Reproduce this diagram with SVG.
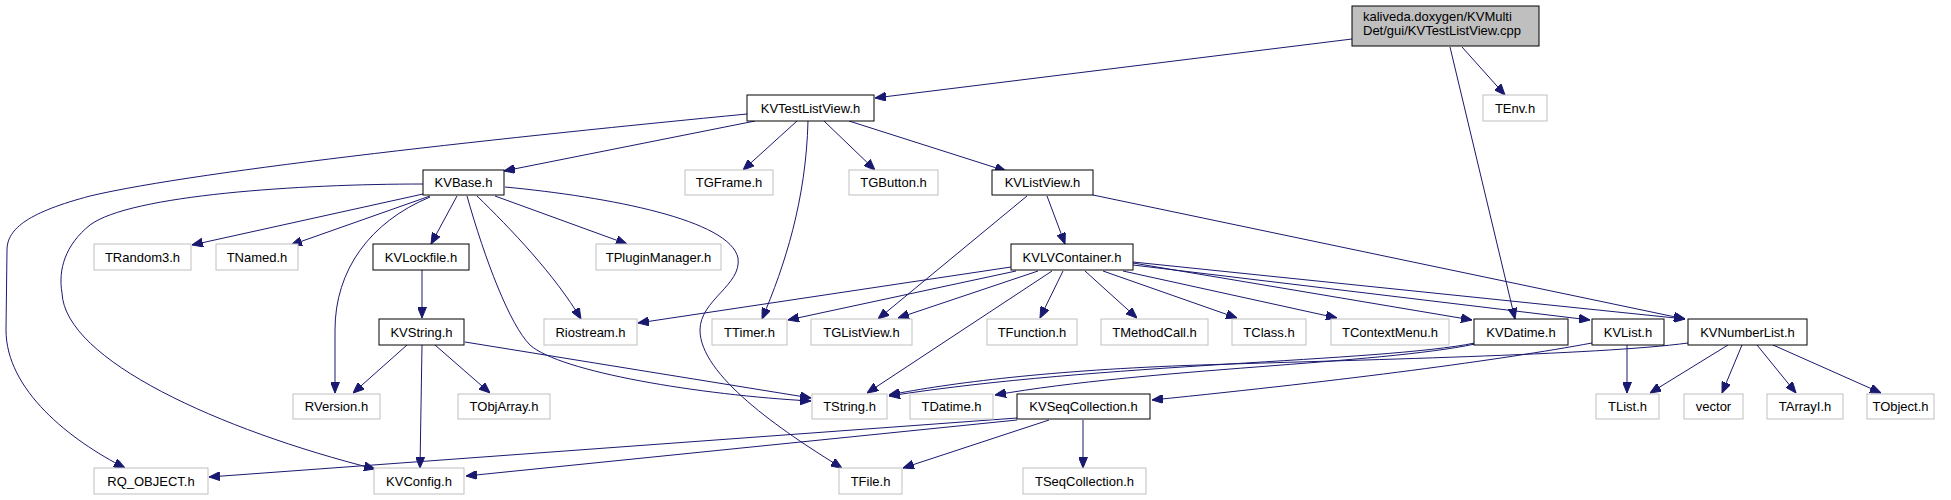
<svg xmlns="http://www.w3.org/2000/svg" width="1951" height="500" viewBox="0 0 1951 500">
<style>
.kv rect{fill:#fff;stroke:#000;stroke-width:1}
.ext rect{fill:#fff;stroke:#bfbfbf;stroke-width:1}
.root rect{fill:#bfbfbf;stroke:#000;stroke-width:1}
text{font-family:"Liberation Sans",Arial,Helvetica,sans-serif;font-size:13px;fill:#000}
.n text{text-anchor:middle}
#edges path{fill:none;stroke:#191970;stroke-width:1;marker-end:url(#arr)}
</style>
<defs>
<marker id="arr" markerUnits="userSpaceOnUse" viewBox="0 0 11 9" refX="11" refY="4.5" markerWidth="11" markerHeight="9" orient="auto">
<path d="M0,0 L11,4.5 L0,9 z" fill="#191970" stroke="#191970"/>
</marker>
</defs>
<rect width="1951" height="500" fill="#fff"/>
<g id="edges">
<path d="M1352,39 L875,98"/>
<path d="M1462,47 L1505,95"/>
<path d="M1450,47 L1515,319"/>
<path d="M755,121 L504,171"/>
<path d="M747,114 C520,136 200,170 90,196 C30,212 7,228 7,250 L6,330 C6,390 70,440 125,468"/>
<path d="M797,121 L743,170"/>
<path d="M824,121 L875,170"/>
<path d="M849,121 L1006,171"/>
<path d="M808,121 C806,200 785,265 762,319"/>
<path d="M423,194 L192,245"/>
<path d="M430,196 L291,245"/>
<path d="M457,196 L431,244"/>
<path d="M495,196 L627,244"/>
<path d="M430,197 C370,222 335,270 335,330 L335,393"/>
<path d="M477,196 C510,228 555,275 581,319"/>
<path d="M467,196 C485,260 510,325 530,345 C560,372 700,395 811,401"/>
<path d="M423,184 C300,184 130,195 90,225 C65,245 58,270 62,293 C65,360 220,430 375,469"/>
<path d="M505,187 C610,197 730,220 738,258 C742,285 700,300 700,330 C700,375 780,430 842,468"/>
<path d="M422,270 L422,318"/>
<path d="M407,345 L353,393"/>
<path d="M435,345 L490,393"/>
<path d="M422,345 L420,468"/>
<path d="M465,342 L811,398"/>
<path d="M1047,196 L1065,244"/>
<path d="M1027,196 L878,319"/>
<path d="M1093,195 L1685,319"/>
<path d="M1011,267 L638,323"/>
<path d="M1016,271 L788,320"/>
<path d="M1038,271 L898,318"/>
<path d="M1052,271 L867,393"/>
<path d="M1063,271 L1040,318"/>
<path d="M1085,271 L1137,318"/>
<path d="M1103,271 L1237,318"/>
<path d="M1123,271 L1337,318"/>
<path d="M1133,263 L1472,320"/>
<path d="M1133,265 L1590,320"/>
<path d="M1133,262 L1685,319"/>
<path d="M1475,343 C1380,362 1100,363 889,396"/>
<path d="M1475,344 C1380,364 1150,368 995,395"/>
<path d="M1592,343 C1500,360 1350,380 1152,400"/>
<path d="M1688,343 C1600,355 1350,360 1200,365 C1050,370 950,383 889,395"/>
<path d="M1627,345 L1627,393"/>
<path d="M1728,345 L1650,393"/>
<path d="M1742,345 L1722,393"/>
<path d="M1757,345 L1796,393"/>
<path d="M1773,345 L1881,393"/>
<path d="M1017,418 L209,477"/>
<path d="M1017,420 L466,476"/>
<path d="M1049,420 L903,468"/>
<path d="M1083,420 L1083,468"/>
</g>
<g id="node_root" class="root"><rect x="1352" y="6" width="187" height="40"/><text x="1363" y="21">kaliveda.doxygen/KVMulti</text><text x="1363" y="35">Det/gui/KVTestListView.cpp</text></g>
<g id="node_KVTestListView" class="n kv"><rect x="747" y="95" width="127" height="26"/><text x="810.5" y="112.5">KVTestListView.h</text></g>
<g id="node_TEnv" class="n ext"><rect x="1483" y="95" width="64" height="26"/><text x="1515" y="112.5">TEnv.h</text></g>
<g id="node_KVBase" class="n kv"><rect x="423" y="170" width="81" height="25"/><text x="463.5" y="187">KVBase.h</text></g>
<g id="node_TGFrame" class="n ext"><rect x="685" y="170" width="88" height="25"/><text x="729" y="187">TGFrame.h</text></g>
<g id="node_TGButton" class="n ext"><rect x="849" y="170" width="89" height="25"/><text x="893.5" y="187">TGButton.h</text></g>
<g id="node_KVListView" class="n kv"><rect x="992" y="170" width="101" height="25"/><text x="1042.5" y="187">KVListView.h</text></g>
<g id="node_TRandom3" class="n ext"><rect x="94" y="244" width="97" height="26"/><text x="142.5" y="261.5">TRandom3.h</text></g>
<g id="node_TNamed" class="n ext"><rect x="216" y="244" width="82" height="26"/><text x="257" y="261.5">TNamed.h</text></g>
<g id="node_KVLockfile" class="n kv"><rect x="373" y="244" width="96" height="26"/><text x="421" y="261.5">KVLockfile.h</text></g>
<g id="node_TPluginManager" class="n ext"><rect x="596" y="244" width="125" height="26"/><text x="658.5" y="261.5">TPluginManager.h</text></g>
<g id="node_KVLVContainer" class="n kv"><rect x="1011" y="244" width="122" height="26"/><text x="1072" y="261.5">KVLVContainer.h</text></g>
<g id="node_KVString" class="n kv"><rect x="379" y="319" width="85" height="26"/><text x="421.5" y="336.5">KVString.h</text></g>
<g id="node_Riostream" class="n ext"><rect x="544" y="319" width="93" height="26"/><text x="590.5" y="336.5">Riostream.h</text></g>
<g id="node_TTimer" class="n ext"><rect x="712" y="319" width="75" height="26"/><text x="749.5" y="336.5">TTimer.h</text></g>
<g id="node_TGListView" class="n ext"><rect x="811" y="319" width="101" height="26"/><text x="861.5" y="336.5">TGListView.h</text></g>
<g id="node_TFunction" class="n ext"><rect x="987" y="319" width="90" height="26"/><text x="1032" y="336.5">TFunction.h</text></g>
<g id="node_TMethodCall" class="n ext"><rect x="1101" y="319" width="107" height="26"/><text x="1154.5" y="336.5">TMethodCall.h</text></g>
<g id="node_TClass" class="n ext"><rect x="1232" y="319" width="74" height="26"/><text x="1269" y="336.5">TClass.h</text></g>
<g id="node_TContextMenu" class="n ext"><rect x="1331" y="319" width="118" height="26"/><text x="1390" y="336.5">TContextMenu.h</text></g>
<g id="node_KVDatime" class="n kv"><rect x="1474" y="319" width="94" height="26"/><text x="1521" y="336.5">KVDatime.h</text></g>
<g id="node_KVList" class="n kv"><rect x="1592" y="319" width="72" height="26"/><text x="1628" y="336.5">KVList.h</text></g>
<g id="node_KVNumberList" class="n kv"><rect x="1688" y="319" width="119" height="26"/><text x="1747.5" y="336.5">KVNumberList.h</text></g>
<g id="node_RVersion" class="n ext"><rect x="293" y="394" width="87" height="25"/><text x="336.5" y="411">RVersion.h</text></g>
<g id="node_TObjArray" class="n ext"><rect x="458" y="394" width="92" height="25"/><text x="504" y="411">TObjArray.h</text></g>
<g id="node_TString" class="n ext"><rect x="812" y="394" width="75" height="25"/><text x="849.5" y="411">TString.h</text></g>
<g id="node_TDatime" class="n ext"><rect x="910" y="394" width="83" height="25"/><text x="951.5" y="411">TDatime.h</text></g>
<g id="node_KVSeqCollection" class="n kv"><rect x="1017" y="394" width="133" height="25"/><text x="1083.5" y="411">KVSeqCollection.h</text></g>
<g id="node_TList" class="n ext"><rect x="1596" y="394" width="63" height="25"/><text x="1627.5" y="411">TList.h</text></g>
<g id="node_vector" class="n ext"><rect x="1684" y="394" width="59" height="25"/><text x="1713.5" y="411">vector</text></g>
<g id="node_TArrayI" class="n ext"><rect x="1767" y="394" width="76" height="25"/><text x="1805" y="411">TArrayI.h</text></g>
<g id="node_TObject" class="n ext"><rect x="1867" y="394" width="67" height="25"/><text x="1900.5" y="411">TObject.h</text></g>
<g id="node_RQ_OBJECT" class="n ext"><rect x="94" y="468" width="114" height="26"/><text x="151" y="485.5">RQ_OBJECT.h</text></g>
<g id="node_KVConfig" class="n ext"><rect x="374" y="468" width="90" height="26"/><text x="419" y="485.5">KVConfig.h</text></g>
<g id="node_TFile" class="n ext"><rect x="839" y="468" width="63" height="26"/><text x="870.5" y="485.5">TFile.h</text></g>
<g id="node_TSeqCollection" class="n ext"><rect x="1023" y="468" width="123" height="26"/><text x="1084.5" y="485.5">TSeqCollection.h</text></g>
</svg>
